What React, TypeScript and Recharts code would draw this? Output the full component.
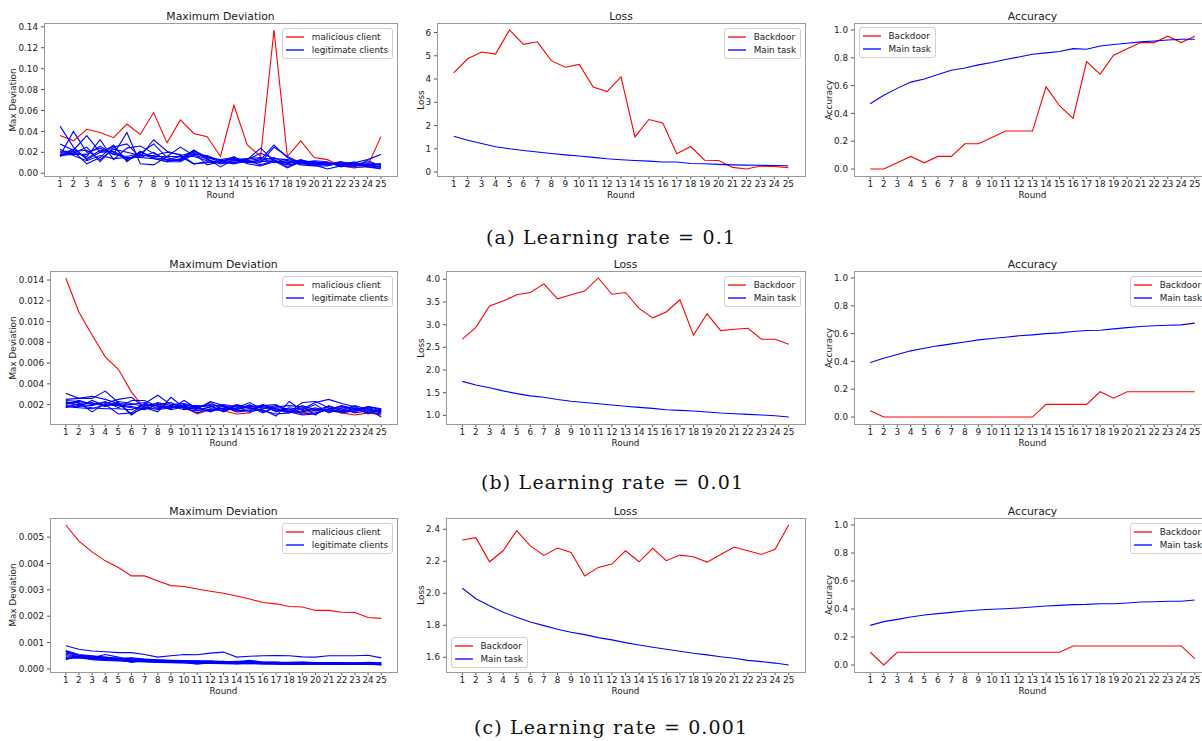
import React from "react";
import { LineChart, Line, XAxis, YAxis } from "recharts";

const rounds = [1, 2, 3, 4, 5, 6, 7, 8, 9, 10, 11, 12, 13, 14, 15, 16, 17, 18, 19, 20, 21, 22, 23, 24, 25];

// (a) learning rate 0.1
const maliciousA = [0.036, 0.031, 0.042, 0.039, 0.034, 0.047, 0.037, 0.058, 0.029, 0.051, 0.038, 0.035, 0.016, 0.065, 0.027, 0.016, 0.137, 0.016, 0.031, 0.015, 0.013, 0.007, 0.005, 0.007, 0.035];
const legitA = [
  [0.045, 0.025, 0.013, 0.020, 0.026, 0.012, 0.018, 0.015, 0.013, 0.012, 0.021, 0.015, 0.011, 0.014, 0.012, 0.008, 0.012, 0.010, 0.012, 0.011, 0.009, 0.011, 0.009, 0.008, 0.006],
  [0.017, 0.040, 0.020, 0.024, 0.018, 0.039, 0.009, 0.008, 0.016, 0.025, 0.017, 0.014, 0.006, 0.013, 0.010, 0.013, 0.027, 0.015, 0.009, 0.008, 0.004, 0.007, 0.006, 0.006, 0.004],
  [0.028, 0.022, 0.036, 0.020, 0.021, 0.014, 0.016, 0.032, 0.021, 0.017, 0.020, 0.008, 0.011, 0.010, 0.013, 0.024, 0.012, 0.005, 0.011, 0.010, 0.008, 0.009, 0.010, 0.013, 0.018],
  [0.021, 0.021, 0.009, 0.015, 0.027, 0.011, 0.021, 0.014, 0.011, 0.011, 0.018, 0.017, 0.012, 0.014, 0.011, 0.012, 0.015, 0.009, 0.013, 0.009, 0.010, 0.008, 0.008, 0.007, 0.009],
  [0.020, 0.020, 0.016, 0.032, 0.013, 0.024, 0.026, 0.019, 0.013, 0.016, 0.009, 0.011, 0.010, 0.016, 0.009, 0.007, 0.011, 0.012, 0.008, 0.007, 0.007, 0.010, 0.007, 0.009, 0.006],
  [0.018, 0.019, 0.025, 0.011, 0.025, 0.028, 0.015, 0.020, 0.012, 0.013, 0.022, 0.013, 0.009, 0.011, 0.010, 0.010, 0.025, 0.016, 0.010, 0.012, 0.011, 0.006, 0.009, 0.010, 0.008],
  [0.017, 0.018, 0.018, 0.026, 0.018, 0.016, 0.019, 0.028, 0.015, 0.012, 0.019, 0.016, 0.012, 0.013, 0.014, 0.015, 0.013, 0.006, 0.012, 0.009, 0.009, 0.008, 0.011, 0.006, 0.005],
  [0.017, 0.023, 0.014, 0.022, 0.020, 0.013, 0.020, 0.016, 0.016, 0.016, 0.016, 0.012, 0.011, 0.009, 0.012, 0.014, 0.010, 0.011, 0.009, 0.010, 0.008, 0.011, 0.006, 0.012, 0.007],
  [0.016, 0.021, 0.022, 0.013, 0.023, 0.020, 0.017, 0.017, 0.020, 0.018, 0.009, 0.010, 0.011, 0.012, 0.013, 0.019, 0.014, 0.013, 0.011, 0.008, 0.009, 0.009, 0.008, 0.007, 0.006],
  [0.023, 0.017, 0.012, 0.017, 0.014, 0.015, 0.015, 0.014, 0.011, 0.014, 0.022, 0.015, 0.013, 0.015, 0.011, 0.011, 0.012, 0.008, 0.010, 0.011, 0.010, 0.007, 0.010, 0.008, 0.009],
];
const lossBackdoorA = [4.26, 4.87, 5.16, 5.07, 6.11, 5.49, 5.6, 4.79, 4.51, 4.63, 3.66, 3.46, 4.09, 1.51, 2.26, 2.11, 0.79, 1.1, 0.51, 0.5, 0.2, 0.13, 0.26, 0.24, 0.19];
const lossMainA = [1.54, 1.37, 1.23, 1.09, 1.0, 0.93, 0.86, 0.8, 0.74, 0.69, 0.63, 0.57, 0.53, 0.5, 0.47, 0.43, 0.43, 0.37, 0.36, 0.33, 0.31, 0.3, 0.29, 0.28, 0.27];
const accBackdoorA = [0, 0, 0.045, 0.091, 0.045, 0.091, 0.091, 0.182, 0.182, 0.227, 0.273, 0.273, 0.273, 0.591, 0.455, 0.364, 0.773, 0.682, 0.818, 0.864, 0.909, 0.909, 0.955, 0.909, 0.955];
const accMainA = [0.47, 0.53, 0.58, 0.625, 0.648, 0.68, 0.71, 0.727, 0.749, 0.766, 0.787, 0.806, 0.825, 0.835, 0.845, 0.866, 0.861, 0.885, 0.895, 0.904, 0.914, 0.921, 0.928, 0.933, 0.933];

// (b) learning rate 0.01
const maliciousB = [0.0142, 0.0109, 0.0087, 0.0066, 0.0054, 0.0032, 0.0016, 0.0020, 0.0017, 0.0018, 0.0011, 0.0015, 0.0014, 0.0011, 0.0012, 0.0020, 0.0016, 0.0013, 0.0012, 0.0014, 0.0014, 0.0012, 0.0010, 0.0012, 0.0010];
const legitB = [
  [0.0031, 0.0026, 0.0028, 0.0025, 0.0021, 0.0011, 0.0017, 0.0022, 0.0019, 0.0017, 0.0016, 0.0023, 0.0019, 0.0015, 0.0018, 0.0019, 0.0016, 0.0013, 0.0010, 0.0011, 0.0016, 0.0018, 0.0015, 0.0018, 0.0016],
  [0.0025, 0.0026, 0.0026, 0.0033, 0.0022, 0.0010, 0.0019, 0.0021, 0.0017, 0.0018, 0.0017, 0.0015, 0.0016, 0.0020, 0.0017, 0.0014, 0.0011, 0.0012, 0.0016, 0.0022, 0.0025, 0.0021, 0.0018, 0.0013, 0.0011],
  [0.0024, 0.0023, 0.0021, 0.0020, 0.0011, 0.0012, 0.0021, 0.0029, 0.0020, 0.0021, 0.0018, 0.0020, 0.0018, 0.0013, 0.0014, 0.0019, 0.0020, 0.0013, 0.0022, 0.0023, 0.0017, 0.0012, 0.0014, 0.0016, 0.0008],
  [0.0022, 0.0022, 0.0013, 0.0021, 0.0025, 0.0027, 0.0017, 0.0013, 0.0027, 0.0017, 0.0012, 0.0016, 0.0014, 0.0017, 0.0022, 0.0015, 0.0009, 0.0023, 0.0014, 0.0017, 0.0013, 0.0014, 0.0013, 0.0018, 0.0015],
  [0.0021, 0.0020, 0.0019, 0.0023, 0.0017, 0.0024, 0.0024, 0.0018, 0.0016, 0.0024, 0.0016, 0.0022, 0.0015, 0.0019, 0.0016, 0.0018, 0.0015, 0.0012, 0.0019, 0.0015, 0.0018, 0.0016, 0.0012, 0.0014, 0.0013],
  [0.0019, 0.0018, 0.0024, 0.0019, 0.0021, 0.0020, 0.0022, 0.0016, 0.0018, 0.0019, 0.0019, 0.0017, 0.0016, 0.0015, 0.0020, 0.0013, 0.0017, 0.0016, 0.0011, 0.0012, 0.0015, 0.0019, 0.0016, 0.0012, 0.0015],
  [0.0018, 0.0017, 0.0016, 0.0020, 0.0019, 0.0017, 0.0015, 0.0020, 0.0022, 0.0016, 0.0014, 0.0018, 0.0020, 0.0018, 0.0013, 0.0016, 0.0019, 0.0014, 0.0013, 0.0016, 0.0014, 0.0015, 0.0019, 0.0015, 0.0012],
  [0.0017, 0.0021, 0.0022, 0.0018, 0.0023, 0.0021, 0.0018, 0.0015, 0.0017, 0.0020, 0.0017, 0.0013, 0.0017, 0.0016, 0.0019, 0.0017, 0.0014, 0.0015, 0.0017, 0.0014, 0.0016, 0.0013, 0.0015, 0.0017, 0.0014],
  [0.0023, 0.0019, 0.0017, 0.0016, 0.0016, 0.0015, 0.0020, 0.0019, 0.0015, 0.0018, 0.0015, 0.0014, 0.0019, 0.0014, 0.0015, 0.0020, 0.0013, 0.0017, 0.0015, 0.0020, 0.0012, 0.0017, 0.0017, 0.0011, 0.0016],
  [0.0020, 0.0024, 0.0020, 0.0022, 0.0020, 0.0018, 0.0016, 0.0017, 0.0019, 0.0015, 0.0018, 0.0019, 0.0013, 0.0019, 0.0018, 0.0012, 0.0018, 0.0019, 0.0018, 0.0010, 0.0019, 0.0014, 0.0016, 0.0016, 0.0013],
];
const lossBackdoorB = [2.68, 2.94, 3.41, 3.52, 3.66, 3.71, 3.9, 3.57, 3.66, 3.74, 4.03, 3.67, 3.71, 3.36, 3.15, 3.28, 3.55, 2.77, 3.24, 2.87, 2.9, 2.92, 2.68, 2.68, 2.57];
const lossMainB = [1.75, 1.67, 1.61, 1.54, 1.48, 1.43, 1.4, 1.35, 1.31, 1.285, 1.256, 1.227, 1.2, 1.176, 1.154, 1.124, 1.11, 1.095, 1.073, 1.051, 1.037, 1.022, 1.007, 0.993, 0.963];
const accBackdoorB = [0.045, 0, 0, 0, 0, 0, 0, 0, 0, 0, 0, 0, 0, 0.091, 0.091, 0.091, 0.091, 0.182, 0.136, 0.182, 0.182, 0.182, 0.182, 0.182, 0.182];
const accMainB = [0.392, 0.423, 0.45, 0.476, 0.495, 0.512, 0.526, 0.54, 0.555, 0.565, 0.574, 0.584, 0.591, 0.6, 0.605, 0.615, 0.622, 0.624, 0.634, 0.643, 0.651, 0.656, 0.66, 0.663, 0.675];

// (c) learning rate 0.001
const maliciousC = [0.00546, 0.00485, 0.00444, 0.0041, 0.00385, 0.00353, 0.00353, 0.00334, 0.00316, 0.00313, 0.00303, 0.00295, 0.00287, 0.00277, 0.00265, 0.00252, 0.00247, 0.00237, 0.00235, 0.00222, 0.00222, 0.00215, 0.00214, 0.00195, 0.00192];
const legitC = [
  [0.00088, 0.00075, 0.00068, 0.00065, 0.00062, 0.00062, 0.00055, 0.00045, 0.0005, 0.00055, 0.00054, 0.0006, 0.00064, 0.00045, 0.00048, 0.0005, 0.00051, 0.0005, 0.00046, 0.00045, 0.0005, 0.0005, 0.0005, 0.00052, 0.00042],
  [0.0007, 0.00055, 0.0005, 0.00045, 0.0004, 0.00042, 0.00038, 0.00035, 0.00033, 0.00032, 0.0003, 0.00031, 0.00028, 0.00027, 0.00033, 0.00026, 0.00024, 0.00025, 0.00026, 0.00024, 0.00023, 0.00024, 0.00022, 0.00025, 0.00023],
  [0.00065, 0.0005, 0.00045, 0.00042, 0.00038, 0.00035, 0.00033, 0.00031, 0.0003, 0.00028, 0.00027, 0.00029, 0.00026, 0.00025, 0.00027, 0.00024, 0.00026, 0.00022, 0.00023, 0.00024, 0.00022, 0.00021, 0.00022, 0.0002, 0.00019],
  [0.0006, 0.00052, 0.00048, 0.00044, 0.0004, 0.00038, 0.00036, 0.00034, 0.00032, 0.0003, 0.00031, 0.00028, 0.00027, 0.00029, 0.00028, 0.00026, 0.00025, 0.00024, 0.00025, 0.00023, 0.00024, 0.00022, 0.00023, 0.00024, 0.0002],
  [0.00055, 0.00048, 0.00042, 0.00055, 0.00045, 0.00032, 0.00035, 0.0003, 0.00028, 0.00027, 0.00025, 0.00026, 0.00029, 0.00024, 0.00026, 0.00022, 0.00024, 0.00021, 0.00022, 0.00021, 0.00023, 0.00022, 0.0002, 0.00021, 0.00018],
  [0.0005, 0.00046, 0.0004, 0.00038, 0.00036, 0.00025, 0.00032, 0.00029, 0.00031, 0.00027, 0.00022, 0.00027, 0.00025, 0.00022, 0.00024, 0.00023, 0.00021, 0.00019, 0.0002, 0.00022, 0.0002, 0.00021, 0.00019, 0.0002, 0.00015],
  [0.00045, 0.00044, 0.00038, 0.00036, 0.00034, 0.00031, 0.0003, 0.00028, 0.00026, 0.00025, 0.00018, 0.00024, 0.00023, 0.0002, 0.00022, 0.0002, 0.0002, 0.00018, 0.0002, 0.0002, 0.00019, 0.00018, 0.0002, 0.00017, 0.00016],
  [0.0004, 0.00042, 0.00036, 0.00034, 0.00032, 0.0003, 0.00028, 0.00026, 0.00025, 0.00024, 0.00023, 0.00022, 0.00021, 0.00021, 0.0002, 0.00021, 0.0002, 0.00019, 0.00018, 0.00019, 0.00018, 0.00019, 0.00018, 0.0002, 0.00017],
  [0.00035, 0.0005, 0.00035, 0.00032, 0.0003, 0.00028, 0.00027, 0.00025, 0.00024, 0.00023, 0.00022, 0.00021, 0.0002, 0.00019, 0.00021, 0.00019, 0.00018, 0.00017, 0.00019, 0.00018, 0.00017, 0.00018, 0.00017, 0.00018, 0.00016],
  [0.00068, 0.0005, 0.00044, 0.0004, 0.00038, 0.0004, 0.00033, 0.0003, 0.00029, 0.0003, 0.00028, 0.00026, 0.00024, 0.00025, 0.00023, 0.00022, 0.00022, 0.0002, 0.00021, 0.0002, 0.0002, 0.0002, 0.00019, 0.00019, 0.00024],
];
const lossBackdoorC = [2.333, 2.348, 2.197, 2.266, 2.392, 2.296, 2.237, 2.283, 2.256, 2.108, 2.162, 2.183, 2.266, 2.197, 2.281, 2.204, 2.239, 2.229, 2.195, 2.243, 2.289, 2.266, 2.243, 2.275, 2.427];
const lossMainC = [2.032, 1.966, 1.922, 1.882, 1.851, 1.821, 1.798, 1.775, 1.757, 1.742, 1.723, 1.709, 1.692, 1.677, 1.663, 1.65, 1.638, 1.625, 1.615, 1.604, 1.594, 1.581, 1.573, 1.564, 1.552];
const accBackdoorC = [0.091, 0, 0.091, 0.091, 0.091, 0.091, 0.091, 0.091, 0.091, 0.091, 0.091, 0.091, 0.091, 0.091, 0.091, 0.136, 0.136, 0.136, 0.136, 0.136, 0.136, 0.136, 0.136, 0.136, 0.045];
const accMainC = [0.283, 0.31, 0.326, 0.343, 0.357, 0.367, 0.376, 0.386, 0.393, 0.398, 0.402, 0.407, 0.414, 0.421, 0.426, 0.431, 0.433, 0.438, 0.438, 0.443, 0.45, 0.452, 0.455, 0.455, 0.464];

// tick labels
const mdTicksA = [0, 0.02, 0.04, 0.06, 0.08, 0.1, 0.12, 0.14];
const mdTicksB = [0.002, 0.004, 0.006, 0.008, 0.01, 0.012, 0.014];
const mdTicksC = [0, 0.001, 0.002, 0.003, 0.004, 0.005];
const lossTicksA = [0, 1, 2, 3, 4, 5, 6];
const lossTicksB = [1, 1.5, 2, 2.5, 3, 3.5, 4];
const lossTicksC = [1.6, 1.8, 2.0, 2.2, 2.4];
const accTicks = [0, 0.2, 0.4, 0.6, 0.8, 1.0];

const RED = "#ff0000";
const BLUE = "#0000ff";
const TXT = "#1a1a1a";
const FS = 8.8;

type Series = { key: string; values: number[]; color: string };
type Frame = { left: number; top: number; right: number; bottom: number };
type Corner = "ur" | "ul" | "ll";

// matplotlib-like 5% autoscale margin
function autoDomain(series: Series[]): [number, number] {
  const all = series.flatMap((s) => s.values);
  const lo = Math.min(...all);
  const hi = Math.max(...all);
  const r = hi - lo;
  return [lo - 0.05 * r, hi + 0.05 * r];
}

function mdSeries(mal: number[], legit: number[][]): Series[] {
  return [
    { key: "mal", values: mal, color: RED },
    ...legit.map((v, i) => ({ key: `c${i}`, values: v, color: BLUE })),
  ];
}

function pairSeries(backdoor: number[], main: number[]): Series[] {
  return [
    { key: "backdoor", values: backdoor, color: RED },
    { key: "main", values: main, color: BLUE },
  ];
}

function LegendBox({ frame, corner, items }: { frame: Frame; corner: Corner; items: { label: string; color: string }[] }) {
  const pos: React.CSSProperties = { position: "absolute" };
  if (corner === "ur") {
    pos.right = 1202 - (frame.right - 4);
    pos.top = frame.top + 5;
  } else if (corner === "ul") {
    pos.left = frame.left + 4.5;
    pos.top = frame.top + 4;
  } else {
    pos.left = frame.left + 4.5;
    pos.top = frame.bottom - 5 - 30;
  }
  return (
    <div
      style={{
        ...pos,
        background: "rgba(255,255,255,0.85)",
        border: "1px solid #d0d0d0",
        borderRadius: 3,
        padding: "1px 4px 1px 3px",
        fontSize: FS,
        color: TXT,
        whiteSpace: "nowrap",
      }}
    >
      {items.map((it) => (
        <div key={it.label} style={{ display: "flex", alignItems: "center", height: 13.5 }}>
          <svg width={18} height={4} style={{ marginRight: 8, display: "block" }}>
            <line x1={0} y1={2} x2={18} y2={2} stroke={it.color} strokeWidth={1.3} />
          </svg>
          <span>{it.label}</span>
        </div>
      ))}
    </div>
  );
}

function Panel({
  frame,
  title,
  yLabel,
  yLabelX,
  series,
  yTicks,
  yDomain,
  digits,
  legendCorner,
  legendItems,
}: {
  frame: Frame;
  title: string;
  yLabel: string;
  yLabelX: number;
  series: Series[];
  yTicks: number[];
  yDomain: [number, number];
  digits: number;
  legendCorner: Corner;
  legendItems: { label: string; color: string }[];
}) {
  const data = rounds.map((r, i) => {
    const row: Record<string, number> = { round: r };
    series.forEach((s) => {
      row[s.key] = s.values[i];
    });
    return row;
  });
  const L = 52;
  const R = 2;
  const B = 30;
  const w = frame.right - frame.left;
  const h = frame.bottom - frame.top;
  const cx = (frame.left + frame.right) / 2;
  const cy = (frame.top + frame.bottom) / 2;
  return (
    <>
      <div style={{ position: "absolute", left: frame.left - L, top: frame.top }}>
        <LineChart width={w + L + R} height={h + B} data={data} margin={{ top: 0, right: R, bottom: 0, left: 0 }}>
          <XAxis
            dataKey="round"
            type="number"
            domain={[-0.2, 26.2]}
            ticks={rounds}
            interval={0}
            allowDataOverflow
            axisLine={false}
            tickLine={{ stroke: "#555" }}
            tickSize={3}
            tickMargin={2}
            height={B}
            tick={{ fontSize: FS, fill: TXT }}
          />
          <YAxis
            type="number"
            domain={yDomain}
            ticks={yTicks}
            interval={0}
            allowDataOverflow
            axisLine={false}
            tickLine={{ stroke: "#555" }}
            tickSize={3}
            tickMargin={3}
            width={L}
            tick={{ fontSize: FS, fill: TXT }}
            tickFormatter={(v: number) => v.toFixed(digits)}
          />
          {series.map((s) => (
            <Line
              key={s.key}
              dataKey={s.key}
              type="linear"
              stroke={s.color}
              strokeWidth={1.1}
              dot={false}
              activeDot={false}
              isAnimationActive={false}
            />
          ))}
        </LineChart>
      </div>
      <div
        style={{
          position: "absolute",
          left: frame.left - 0.5,
          top: frame.top - 0.5,
          width: w + 1,
          height: h + 1,
          border: "1px solid #9a9a9a",
          boxSizing: "border-box",
          pointerEvents: "none",
        }}
      />
      <div
        style={{
          position: "absolute",
          left: cx,
          top: frame.top - 7,
          transform: "translate(-50%, -50%)",
          fontSize: 10.8,
          color: TXT,
          whiteSpace: "nowrap",
        }}
      >
        {title}
      </div>
      <div
        style={{
          position: "absolute",
          left: yLabelX,
          top: cy,
          transform: "translate(-50%, -50%) rotate(-90deg)",
          fontSize: FS,
          color: TXT,
          whiteSpace: "nowrap",
        }}
      >
        {yLabel}
      </div>
      <div
        style={{
          position: "absolute",
          left: cx,
          top: frame.bottom + 19,
          transform: "translate(-50%, -50%)",
          fontSize: FS,
          color: TXT,
          whiteSpace: "nowrap",
        }}
      >
        Round
      </div>
      <LegendBox frame={frame} corner={legendCorner} items={legendItems} />
    </>
  );
}

const mdLegend = [
  { label: "malicious client", color: RED },
  { label: "legitimate clients", color: BLUE },
];
const pairLegend = [
  { label: "Backdoor", color: RED },
  { label: "Main task", color: BLUE },
];

const captions = [
  { text: "(a) Learning rate = 0.1", x: 610.5, y: 244, len: 249 },
  { text: "(b) Learning rate = 0.01", x: 612, y: 489, len: 262 },
  { text: "(c) Learning rate = 0.001", x: 610.5, y: 734, len: 273 },
];

export default function App() {
  const rowsY = [
    { top: 23, bottom: 176 },
    { top: 271, bottom: 424 },
    { top: 518, bottom: 672 },
  ];
  const mdA = mdSeries(maliciousA, legitA);
  const mdB = mdSeries(maliciousB, legitB);
  const mdC = mdSeries(maliciousC, legitC);
  const lossA = pairSeries(lossBackdoorA, lossMainA);
  const lossB = pairSeries(lossBackdoorB, lossMainB);
  const lossC = pairSeries(lossBackdoorC, lossMainC);
  const accA = pairSeries(accBackdoorA, accMainA);
  const accB = pairSeries(accBackdoorB, accMainB);
  const accC = pairSeries(accBackdoorC, accMainC);
  const accDomain: [number, number] = [-0.05, 1.05];

  return (
    <div
      style={{
        position: "fixed",
        left: 0,
        top: 0,
        width: 1202,
        height: 741,
        overflow: "hidden",
        background: "#fff",
        fontFamily: '"DejaVu Sans", sans-serif',
      }}
    >
      {/* row (a) */}
      <Panel frame={{ left: 44, right: 397, ...rowsY[0] }} title="Maximum Deviation" yLabel="Max Deviation" yLabelX={13}
        series={mdA} yTicks={mdTicksA} yDomain={autoDomain(mdA)} digits={2} legendCorner="ur" legendItems={mdLegend} />
      <Panel frame={{ left: 437, right: 805, ...rowsY[0] }} title="Loss" yLabel="Loss" yLabelX={421}
        series={lossA} yTicks={lossTicksA} yDomain={autoDomain(lossA)} digits={0} legendCorner="ur" legendItems={pairLegend} />
      <Panel frame={{ left: 854, right: 1211, ...rowsY[0] }} title="Accuracy" yLabel="Accuracy" yLabelX={829}
        series={accA} yTicks={accTicks} yDomain={accDomain} digits={1} legendCorner="ul" legendItems={pairLegend} />

      {/* row (b) */}
      <Panel frame={{ left: 50, right: 397, ...rowsY[1] }} title="Maximum Deviation" yLabel="Max Deviation" yLabelX={13}
        series={mdB} yTicks={mdTicksB} yDomain={autoDomain(mdB)} digits={3} legendCorner="ur" legendItems={mdLegend} />
      <Panel frame={{ left: 446, right: 805, ...rowsY[1] }} title="Loss" yLabel="Loss" yLabelX={421}
        series={lossB} yTicks={lossTicksB} yDomain={autoDomain(lossB)} digits={1} legendCorner="ur" legendItems={pairLegend} />
      <Panel frame={{ left: 854, right: 1211, ...rowsY[1] }} title="Accuracy" yLabel="Accuracy" yLabelX={829}
        series={accB} yTicks={accTicks} yDomain={accDomain} digits={1} legendCorner="ur" legendItems={pairLegend} />

      {/* row (c) */}
      <Panel frame={{ left: 50, right: 397, ...rowsY[2] }} title="Maximum Deviation" yLabel="Max Deviation" yLabelX={13}
        series={mdC} yTicks={mdTicksC} yDomain={autoDomain(mdC)} digits={3} legendCorner="ur" legendItems={mdLegend} />
      <Panel frame={{ left: 446, right: 805, ...rowsY[2] }} title="Loss" yLabel="Loss" yLabelX={421}
        series={lossC} yTicks={lossTicksC} yDomain={autoDomain(lossC)} digits={1} legendCorner="ll" legendItems={pairLegend} />
      <Panel frame={{ left: 854, right: 1211, ...rowsY[2] }} title="Accuracy" yLabel="Accuracy" yLabelX={829}
        series={accC} yTicks={accTicks} yDomain={accDomain} digits={1} legendCorner="ur" legendItems={pairLegend} />

      <svg width={1202} height={741} style={{ position: "absolute", left: 0, top: 0, pointerEvents: "none" }}>
        {captions.map((c) => (
          <text
            key={c.text}
            x={c.x}
            y={c.y}
            textAnchor="middle"
            textLength={c.len}
            lengthAdjust="spacing"
            fontFamily='"DejaVu Serif", serif'
            fontSize={19}
            fill="#111"
          >
            {c.text}
          </text>
        ))}
      </svg>
    </div>
  );
}
